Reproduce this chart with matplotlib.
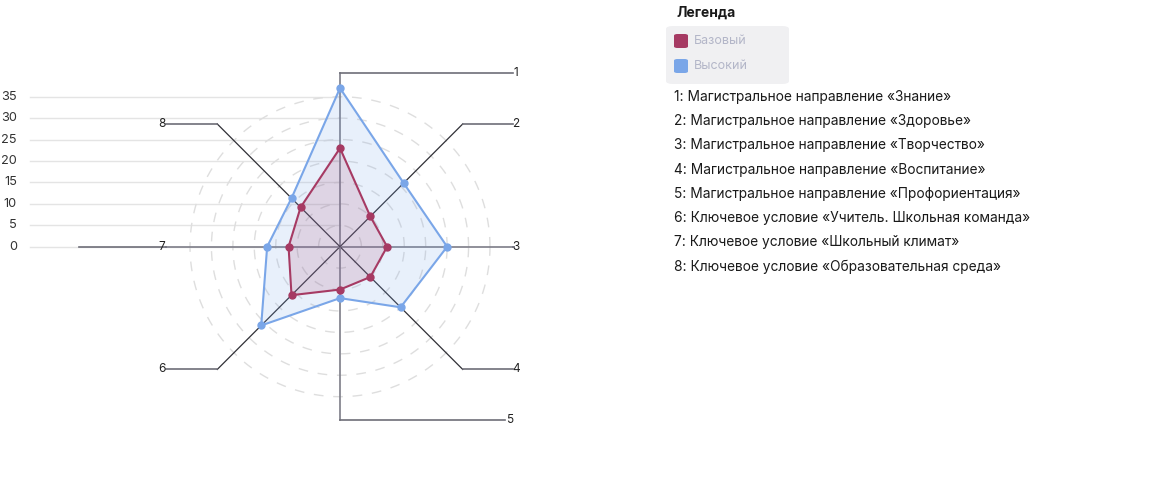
import numpy as np
import matplotlib.pyplot as plt
from matplotlib.patches import FancyBboxPatch, Polygon

plt.rcParams['font.family'] = ['Inter', 'DejaVu Sans']

# ---------- данные ----------
axis_ids = ['1', '2', '3', '4', '5', '6', '7', '8']
axis_names = [
    'Магистральное направление «Знание»',
    'Магистральное направление «Здоровье»',
    'Магистральное направление «Творчество»',
    'Магистральное направление «Воспитание»',
    'Магистральное направление «Профориентация»',
    'Ключевое условие «Учитель. Школьная команда»',
    'Ключевое условие «Школьный климат»',
    'Ключевое условие «Образовательная среда»',
]
series_names = ['Базовый', 'Высокий']
base_vals = [23, 10, 11, 10, 10, 16, 12, 13]
high_vals = [37, 21, 25, 20, 12, 26, 17, 16]
y_ticks = [0, 5, 10, 15, 20, 25, 30, 35]

RED = '#a63a63'
BLUE = '#7aa6e8'

# ---------- геометрия (пиксели) ----------
W, H = 1153, 500
CX, CY = 340, 246.7
PX = 150 / 35          # пикселей на единицу
R_AXIS = 40.5          # длина осей в единицах
lead_x_px = [513, 513, 513, 513, 505, 166, 79, 166]
label_x_px = [516, 516, 516, 516, 510, 162, 162, 162]


def ux(px):
    return (px - CX) / PX


fig = plt.figure(figsize=(W / 100, H / 100), dpi=100)
ax = fig.add_axes([0, 0, 1, 1])
ax.set_xlim(ux(0), ux(W))
ax.set_ylim((CY - H) / PX, CY / PX)
ax.axis('off')

# горизонтальная сетка и подписи слева
for t in y_ticks:
    ax.plot([ux(30), 0], [t, t], color='#e4e4e4', lw=1, zorder=1)
    ax.text(ux(17), t, str(t), ha='right', va='center', fontsize=9.2, color='#333333')

# пунктирные окружности
th = np.linspace(0, 2 * np.pi, 361)
for r in range(5, 36, 5):
    ax.plot(r * np.cos(th), r * np.sin(th), color='#dedede', lw=1,
            dashes=(7, 7), zorder=1)

# оси и выноски
angles = np.deg2rad(90 - 45 * np.arange(len(axis_ids)))
for i, a in enumerate(angles):
    ex, ey = R_AXIS * np.cos(a), R_AXIS * np.sin(a)
    straight = abs(np.cos(a)) < 1e-6 or abs(np.sin(a)) < 1e-6
    col = '#7d7d88' if straight else '#2f2f35'
    ax.plot([0, ex], [0, ey], color=col, lw=1.2 if straight else 0.9, zorder=2)
    ax.plot([ex, ux(lead_x_px[i])], [ey, ey], color='#6e6e78', lw=1.2, zorder=2)
    ax.text(ux(label_x_px[i]), ey, axis_ids[i], ha='center', va='center',
            fontsize=8.5, color='#222222', zorder=3)

# радары
for vals, col, alpha in [(high_vals, BLUE, 0.17), (base_vals, RED, 0.15)]:
    v = np.array(vals, dtype=float)
    xs, ys = v * np.cos(angles), v * np.sin(angles)
    ax.add_patch(Polygon(np.column_stack([xs, ys]), closed=True,
                         facecolor=col, alpha=alpha, edgecolor='none', zorder=3))
    ax.plot(np.append(xs, xs[0]), np.append(ys, ys[0]), color=col, lw=1.5, zorder=4)
    ax.plot(xs, ys, 'o', color=col, ms=5, zorder=5)

# легенда
fig.text(676 / W, 1 - 13 / H, 'Легенда', fontsize=10, fontweight='bold',
         color='#1a1a1a', va='center', ha='left')
box = FancyBboxPatch((666 / W, 1 - 84 / H), 123 / W, 58 / H,
                     boxstyle='round,pad=0,rounding_size=0.006',
                     transform=fig.transFigure, facecolor='#f0f0f2',
                     edgecolor='none')
fig.patches.append(box)
for k, (name, col) in enumerate(zip(series_names, [RED, BLUE])):
    yc = 41 + 25 * k
    sw = FancyBboxPatch((674 / W, 1 - (yc + 7) / H), 14 / W, 14 / H,
                        boxstyle='round,pad=0,rounding_size=0.003',
                        transform=fig.transFigure, facecolor=col,
                        edgecolor='none')
    fig.patches.append(sw)
    fig.text(694 / W, 1 - yc / H, name, fontsize=9, color='#b3b6c8',
             va='center', ha='left')

for k, (aid, name) in enumerate(zip(axis_ids, axis_names)):
    fig.text(674 / W, 1 - (97 + 24.2 * k) / H, f'{aid}: {name}', fontsize=9.9,
             color='#1a1a1a', va='center', ha='left')

fig.savefig('out.png', dpi=100)
